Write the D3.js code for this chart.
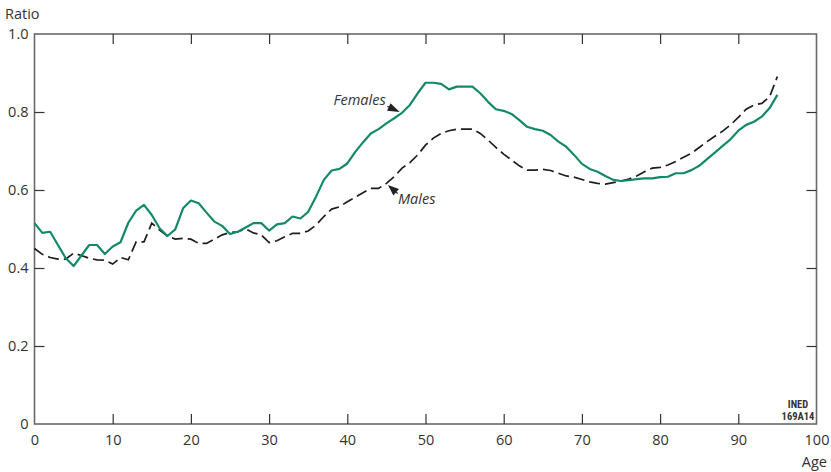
<!DOCTYPE html>
<html>
<head>
<meta charset="utf-8">
<script src="https://cdn.jsdelivr.net/npm/d3@7"></script>
<style>
  html, body { margin: 0; padding: 0; background: #fff; }
  svg { display: block; }
  text { font-family: "Open Sans", "Noto Sans", sans-serif; fill: #333; }
</style>
</head>
<body>
<svg id="chart" width="831" height="472"></svg>
<script>
// ---- data ----
const ages = d3.range(0, 96);
const females = [
  0.515, 0.49, 0.493, 0.459, 0.425, 0.405, 0.432, 0.459, 0.459, 0.436,
  0.455, 0.466, 0.516, 0.547, 0.562, 0.536, 0.502, 0.482, 0.499, 0.553,
  0.573, 0.566, 0.542, 0.519, 0.508, 0.487, 0.493, 0.504, 0.515, 0.515,
  0.496, 0.512, 0.515, 0.532, 0.527, 0.544, 0.583, 0.626, 0.65, 0.654,
  0.668, 0.697, 0.722, 0.745, 0.756, 0.771, 0.784, 0.798, 0.818, 0.848,
  0.875, 0.875, 0.872, 0.858, 0.865, 0.865, 0.865, 0.848, 0.826, 0.807,
  0.803, 0.795, 0.779, 0.762, 0.756, 0.752, 0.741, 0.724, 0.711, 0.69,
  0.667, 0.654, 0.647, 0.636, 0.626, 0.623, 0.625, 0.628, 0.63, 0.63,
  0.633, 0.634, 0.643, 0.643, 0.651, 0.662, 0.679, 0.696, 0.713, 0.73,
  0.752, 0.767, 0.775, 0.788, 0.81, 0.844
];
const males = [
  0.45, 0.435, 0.427, 0.423, 0.423, 0.438, 0.432, 0.425, 0.421, 0.42,
  0.41, 0.427, 0.421, 0.467, 0.467, 0.515, 0.497, 0.482, 0.474, 0.476,
  0.474, 0.463, 0.463, 0.474, 0.485, 0.491, 0.493, 0.5, 0.49, 0.485,
  0.465, 0.47, 0.48, 0.489, 0.489, 0.495, 0.51, 0.532, 0.551, 0.557,
  0.57, 0.581, 0.593, 0.604, 0.604, 0.617, 0.634, 0.656, 0.67, 0.69,
  0.715, 0.733, 0.745, 0.752, 0.756, 0.756, 0.756, 0.745, 0.728, 0.709,
  0.692, 0.677, 0.662, 0.651, 0.651, 0.653, 0.65, 0.643, 0.636, 0.633,
  0.627, 0.621, 0.617, 0.615, 0.619, 0.623, 0.628, 0.636, 0.647, 0.656,
  0.658, 0.664, 0.673, 0.684, 0.694, 0.709, 0.724, 0.738, 0.751, 0.767,
  0.786, 0.807, 0.818, 0.822, 0.839, 0.891
];
const xTicks = [0, 10, 20, 30, 40, 50, 60, 70, 80, 90, 100];
const yTicks = [0, 0.2, 0.4, 0.6, 0.8, 1.0];
const yLabels = ["0", "0.2", "0.4", "0.6", "0.8", "1.0"];
const seriesNames = ["Females", "Males"];
// annotation anchors (age, value) on each curve
const labelAnchors = [
  { name: "Females", age: 46.7, value: 0.80 },
  { name: "Males", age: 45.2, value: 0.613 }
];
const sourceLines = ["INED", "169A14"];

// ---- layout ----
const svg = d3.select("#chart");
const mLeft = 34.5, mRight = 816.5, mTop = 34, mBottom = 424;
const x = d3.scaleLinear().domain([0, 100]).range([mLeft, mRight]);
const y = d3.scaleLinear().domain([0, 1]).range([mBottom, mTop]);

// frame
svg.append("rect")
  .attr("x", mLeft).attr("y", mTop)
  .attr("width", mRight - mLeft).attr("height", mBottom - mTop)
  .attr("fill", "none").attr("stroke", "#6a6a6a").attr("stroke-width", 1.6);

function styleAxis(g) {
  g.select(".domain").remove();
  g.selectAll(".tick line").attr("stroke", "#333").attr("stroke-width", 1.2);
  g.selectAll(".tick text")
    .attr("fill", "#333")
    .style("font-family", '"Open Sans", "Noto Sans", sans-serif')
    .style("font-size", "14.5px");
}

const innerX = xTicks.filter(t => t > 0 && t < 100);
const innerY = yTicks.filter(t => t > 0 && t < 1);

svg.append("g").attr("transform", `translate(0,${mBottom})`)
  .call(d3.axisBottom(x).tickValues(xTicks).tickSize(-10).tickPadding(11).tickFormat(d3.format("d")))
  .call(styleAxis)
  .call(g => g.selectAll(".tick line").filter(d => d === 0 || d === 100).remove());

svg.append("g").attr("transform", `translate(0,${mTop})`)
  .call(d3.axisTop(x).tickValues(innerX).tickSize(-10).tickFormat(""))
  .call(styleAxis);

svg.append("g").attr("transform", `translate(${mLeft},0)`)
  .call(d3.axisLeft(y).tickValues(yTicks).tickSize(-10).tickPadding(6)
    .tickFormat((d, i) => yLabels[i]))
  .call(styleAxis)
  .call(g => g.selectAll(".tick line").filter(d => d === 0 || d === 1).remove());

svg.append("g").attr("transform", `translate(${mRight},0)`)
  .call(d3.axisRight(y).tickValues(innerY).tickSize(-10).tickFormat(""))
  .call(styleAxis);

// axis titles
svg.append("text").attr("x", 5).attr("y", 19)
  .style("font-size", "14.5px").text("Ratio");
svg.append("text").attr("x", 827).attr("y", 467).attr("text-anchor", "end")
  .style("font-size", "14.5px").text("Age");

// lines
const line = d3.line().x((d, i) => x(ages[i])).y(d => y(d));
svg.append("path").datum(males)
  .attr("d", line).attr("fill", "none")
  .attr("stroke", "#1e1e1e").attr("stroke-width", 1.7)
  .attr("stroke-dasharray", "11,5");
svg.append("path").datum(females)
  .attr("d", line).attr("fill", "none")
  .attr("stroke", "#14896a").attr("stroke-width", 2.2)
  .attr("stroke-linejoin", "round");

// annotations with arrowheads
function arrow(tipX, tipY, dx, dy, len, halfW, stem) {
  const n = Math.hypot(dx, dy), ux = dx / n, uy = dy / n;
  const bx = tipX + ux * len, by = tipY + uy * len;
  const px = -uy * halfW, py = ux * halfW;
  svg.append("line")
    .attr("x1", bx).attr("y1", by)
    .attr("x2", tipX + ux * (len + stem)).attr("y2", tipY + uy * (len + stem))
    .attr("stroke", "#222").attr("stroke-width", 1.4);
  svg.append("polygon")
    .attr("points", `${tipX},${tipY} ${bx + px},${by + py} ${bx - px},${by - py}`)
    .attr("fill", "#222");
}

const fA = labelAnchors[0];
const fx = x(fA.age), fy = y(fA.value);
arrow(fx, fy, -12, -5.5, 12, 4.2, 1.5);
svg.append("text").attr("x", fx - 14).attr("y", fy - 7.5)
  .attr("text-anchor", "end").style("font-style", "italic")
  .style("font-size", "14.5px").text(seriesNames[0]);

const mA = labelAnchors[1];
const mx = x(mA.age), my = y(mA.value);
arrow(mx, my, 9, 8, 11, 4.2, 2);
svg.append("text").attr("x", mx + 10).attr("y", my + 19)
  .style("font-style", "italic")
  .style("font-size", "14.5px").text(seriesNames[1]);

// source
svg.selectAll("text.src").data(sourceLines).join("text")
  .attr("class", "src")
  .attr("x", 798).attr("y", (d, i) => 408 + i * 11.5)
  .attr("text-anchor", "middle")
  .style("font-family", '"Liberation Sans Narrow", "Arial Narrow", "Roboto Condensed", sans-serif')
  .style("font-weight", "bold")
  .style("font-size", "10.5px")
  .text(d => d);
</script>
</body>
</html>
